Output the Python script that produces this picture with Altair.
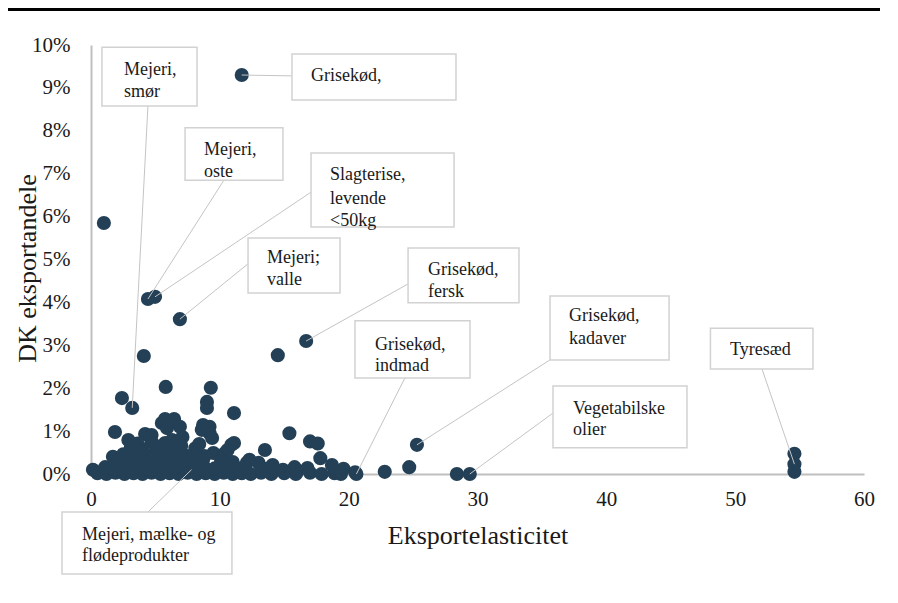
import altair as alt
import pandas as pd

# ---------------- data ----------------
# Eksportelasticitet (x) and DK eksportandele in percent (y)
elasticity = [
    11.7, 1.0, 4.42, 4.97, 6.9, 16.7, 14.5, 4.1, 5.8, 9.3, 2.4, 3.2, 9.0, 9.0,
    11.1, 5.75, 6.45, 5.5, 8.7, 9.2, 6.9, 5.9, 8.6, 1.86, 4.2, 4.7, 9.2, 15.4,
    2.9, 6.3, 9.4, 7.1, 4.7, 5.75, 11.1, 10.9, 17.0, 17.6, 13.5, 10.6, 25.3,
    17.8, 18.7, 19.6, 20.6, 20.5, 22.8, 24.7, 28.4, 29.4, 54.6, 54.6, 54.6,
    1.7, 0.15, 1.1, 9.5, 10.4, 12.3, 12.1, 13.0, 14.1, 15.8, 16.8, 14.9, 16.0, 7.8,
    0.5, 1.2, 1.9, 2.6, 3.3, 4.0, 4.7, 5.4, 6.1, 6.8, 7.5, 8.2, 8.9, 9.6, 10.3,
    11.0, 11.7, 12.4, 13.2, 14.0, 15.0, 15.9, 17.0, 17.9, 18.9, 19.4,
    1.6, 2.3, 3.0, 3.7, 4.4, 5.1, 5.8, 6.6, 7.3, 8.0, 8.8, 9.6, 10.5, 11.3, 13.6,
    2.1, 2.9, 3.6, 4.3, 5.0, 5.7, 6.5, 7.2, 8.0, 8.7, 10.1, 11.0,
    2.5, 3.3, 4.1, 4.9, 5.6, 6.4, 7.2, 8.0, 8.8,
    3.1, 4.0, 5.2, 6.0, 7.0, 8.1, 8.4, 3.6,
]
share_pct = [
    9.30, 5.85, 4.08, 4.13, 3.61, 3.10, 2.77, 2.75, 2.03, 2.01, 1.77, 1.54, 1.68, 1.54,
    1.42, 1.28, 1.28, 1.19, 1.14, 1.10, 1.10, 1.07, 1.03, 0.98, 0.93, 0.91, 0.95, 0.95,
    0.79, 0.79, 0.84, 0.86, 0.75, 0.72, 0.72, 0.68, 0.76, 0.71, 0.56, 0.56, 0.68,
    0.37, 0.21, 0.12, 0.00, 0.04, 0.05, 0.16, 0.00, 0.00, 0.47, 0.23, 0.05,
    0.40, 0.10, 0.16, 0.49, 0.49, 0.33, 0.26, 0.26, 0.21, 0.16, 0.14, 0.10, 0.05, 0.10,
    0.02, 0.00, 0.03, 0.00, 0.02, 0.00, 0.03, 0.00, 0.02, 0.00, 0.03, 0.00, 0.02, 0.00, 0.03,
    0.00, 0.02, 0.00, 0.03, 0.00, 0.02, 0.00, 0.03, 0.00, 0.02, 0.00,
    0.14, 0.18, 0.12, 0.17, 0.13, 0.19, 0.14, 0.16, 0.12, 0.18, 0.15, 0.13, 0.17, 0.14, 0.12,
    0.31, 0.27, 0.34, 0.29, 0.32, 0.28, 0.33, 0.30, 0.27, 0.33, 0.30, 0.28,
    0.46, 0.50, 0.44, 0.48, 0.43, 0.50, 0.45, 0.47, 0.42,
    0.62, 0.58, 0.64, 0.60, 0.66, 0.60, 0.70, 0.71,
]

# annotation callouts: label lines, box extent (data units), leader line (box side -> point)
ann_lines = [
    ["Mejeri,", "smør"],
    ["Grisekød,"],
    ["Mejeri,", "oste"],
    ["Slagterise,", "levende", "<50kg"],
    ["Mejeri;", "valle"],
    ["Grisekød,", "fersk"],
    ["Grisekød,", "indmad"],
    ["Grisekød,", "kadaver"],
    ["Vegetabilske", "olier"],
    ["Tyresæd"],
    ["Mejeri, mælke- og", "flødeprodukter"],
]
box_x0 = [0.85, 15.60, 7.30, 17.08, 12.19, 24.61, 20.49, 35.63, 35.86, 48.08, -2.25]
box_x1 = [8.23, 28.33, 14.90, 28.18, 19.33, 33.22, 29.42, 44.87, 46.26, 56.04, 10.94]
box_y0 = [9.95, 9.79, 8.07, 7.48, 5.50, 5.27, 3.57, 4.15, 2.05, 3.40, -0.886]
box_y1 = [8.58, 8.72, 6.85, 5.76, 4.22, 3.99, 2.24, 2.66, 0.61, 2.45, -2.33]
text_x = [2.56, 17.08, 8.77, 18.55, 13.66, 26.16, 22.04, 37.10, 37.41, 49.6, -0.70]
text_y = [
    [9.42, 8.90], [9.28], [7.55, 7.04], [6.97, 6.41, 5.90], [5.03, 4.52],
    [4.76, 4.24], [3.01, 2.52], [3.68, 3.15], [1.52, 1.03], [2.89], [-1.42, -1.91],
]
lead_x0 = [4.42, 15.60, 10.32, 17.08, 12.19, 24.61, 24.37, 35.63, 35.86, 52.08, 4.42]
lead_y0 = [8.58, 9.28, 6.85, 6.57, 4.90, 4.43, 2.24, 2.66, 1.42, 2.45, -0.886]
lead_x1 = [3.2, 11.7, 4.42, 4.97, 6.9, 16.7, 20.6, 25.3, 29.4, 54.6, 7.8]
lead_y1 = [1.54, 9.30, 4.08, 4.13, 3.61, 3.10, 0.00, 0.68, 0.00, 0.23, 0.10]

x_ticks = [0, 10, 20, 30, 40, 50, 60]
y_ticks = [0, 0.01, 0.02, 0.03, 0.04, 0.05, 0.06, 0.07, 0.08, 0.09, 0.10]

# ---------------- tables ----------------
pts = pd.DataFrame({"x": elasticity, "y": [v / 100 for v in share_pct]})
boxes = pd.DataFrame({
    "x0": box_x0, "x1": box_x1,
    "y0": [v / 100 for v in box_y0], "y1": [v / 100 for v in box_y1],
})
leads = pd.DataFrame({
    "x0": lead_x0, "x1": lead_x1,
    "y0": [v / 100 for v in lead_y0], "y1": [v / 100 for v in lead_y1],
})
rows = []
for lines, tx, tys in zip(ann_lines, text_x, text_y):
    for line, ty in zip(lines, tys):
        rows.append({"t": line, "x": tx, "y": ty / 100})
texts = pd.DataFrame(rows)

FONT = "Liberation Serif"
xs = alt.Scale(domain=[0, 60], nice=False, zero=False)
ys = alt.Scale(domain=[0, 0.10], nice=False, zero=False)

X = alt.X("x:Q", scale=xs, axis=alt.Axis(
    values=x_ticks, title="Eksportelasticitet", ticks=False, grid=False,
    labelFlush=False, labelOverlap=False,
    domainColor="#bfbfbf", domainWidth=2, labelFont=FONT, labelFontSize=21,
    labelColor="#1a1a1a", labelPadding=14, titleFont=FONT, titleFontSize=26,
    titleFontWeight="normal", titleColor="#1a1a1a", titlePadding=13,
))
Y = alt.Y("y:Q", scale=ys, axis=alt.Axis(
    values=y_ticks, format=".0%", title="DK eksportandele", ticks=False, grid=False,
    labelFlush=False, labelOverlap=False,
    domainColor="#bfbfbf", domainWidth=2, labelFont=FONT, labelFontSize=21,
    labelColor="#1a1a1a", labelPadding=21, titleFont=FONT, titleFontSize=26,
    titleFontWeight="normal", titleColor="#1a1a1a", titleX=-64, titleY=223,
    titleBaseline="middle", titleAngle=270,
))

points = alt.Chart(pts).mark_circle(size=200, color="#244056", opacity=1).encode(x=X, y=Y)

leaders = alt.Chart(leads).mark_rule(color="#c4c4c4", strokeWidth=1).encode(
    x=alt.X("x0:Q", scale=xs), x2="x1:Q",
    y=alt.Y("y0:Q", scale=ys), y2="y1:Q",
)
rects = alt.Chart(boxes).mark_rect(fill="white", stroke="#d2d2d2", strokeWidth=1.5).encode(
    x=alt.X("x0:Q", scale=xs), x2="x1:Q",
    y=alt.Y("y0:Q", scale=ys), y2="y1:Q",
)
labels = alt.Chart(texts).mark_text(
    align="left", baseline="middle", font=FONT, fontSize=18, color="#1a1a1a"
).encode(x=alt.X("x:Q", scale=xs), y=alt.Y("y:Q", scale=ys), text="t:N")

top_rule = alt.Chart(pd.DataFrame({"a": [0]})).mark_rule(color="black", strokeWidth=3).encode(
    x=alt.value(-83), x2=alt.value(789), y=alt.value(-35.5)
)

chart = alt.layer(points, leaders, rects, labels, top_rule).properties(
    width=773, height=429,
    autosize=alt.AutoSizeParams(type="none"),
    padding={"left": 83, "top": 37, "right": 26, "bottom": 121},
).configure(background="white", font=FONT).configure_view(stroke=None).configure_text(font=FONT)

chart.save("out.html", embed_options={"renderer": "svg", "actions": False})
